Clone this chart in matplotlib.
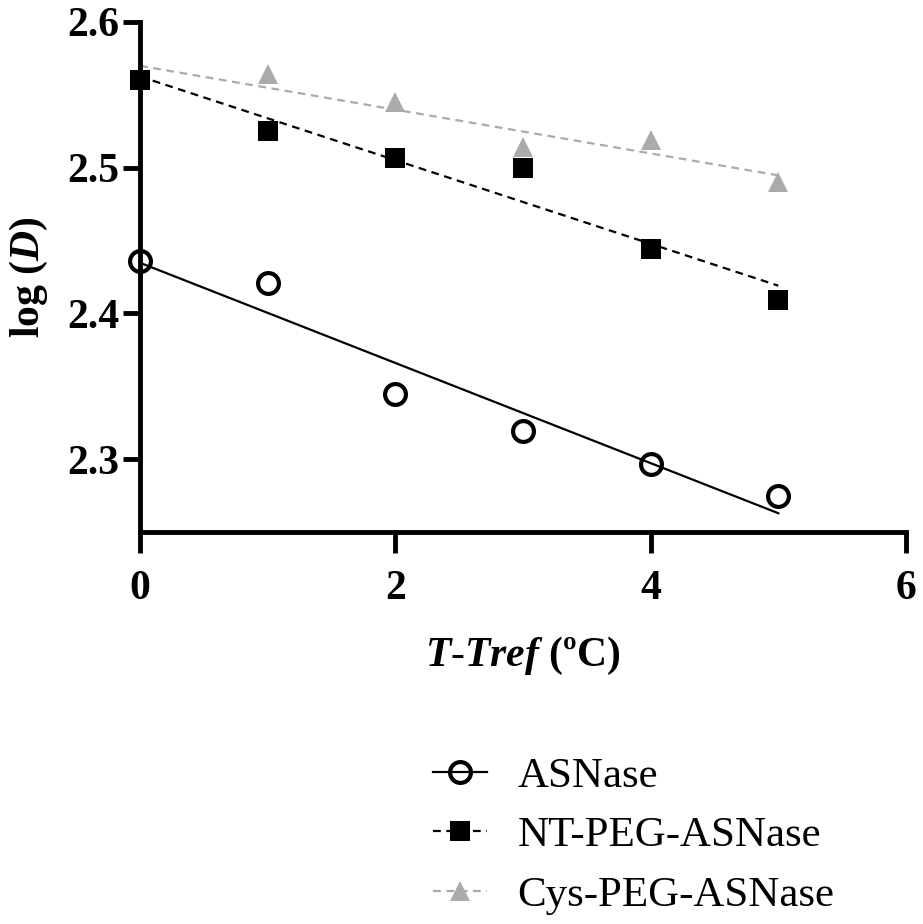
import numpy as np
import matplotlib
matplotlib.use("Agg")
import matplotlib.pyplot as plt
from matplotlib.lines import Line2D

plt.rcParams['font.family'] = ['Liberation Serif', 'DejaVu Serif']
plt.rcParams['mathtext.fontset'] = 'custom'
plt.rcParams['mathtext.rm'] = 'Liberation Serif'
plt.rcParams['mathtext.it'] = 'Liberation Serif:italic:bold'
plt.rcParams['mathtext.bf'] = 'Liberation Serif:bold'

# Data
x = [0, 1, 2, 3, 4, 5]
asnase = [2.436, 2.421, 2.345, 2.319, 2.297, 2.275]
nt_peg = [2.560, 2.525, 2.507, 2.500, 2.444, 2.409]
cys_peg = [2.562, 2.564, 2.545, 2.514, 2.519, 2.490]
labels = ["ASNase", "NT-PEG-ASNase", "Cys-PEG-ASNase"]
xticks = [0, 2, 4, 6]
yticks = [2.3, 2.4, 2.5, 2.6]

gray = '#ababab'
styles = [
    dict(color='black', ls='-', marker='o', mfc='none', mec='black', mew=3.0, ms=15),
    dict(color='black', ls=(0, (3.5, 2.5)), marker='s', mfc='black', mec='black', mew=0, ms=15),
    dict(color=gray, ls=(0, (3.5, 2.5)), marker='^', mfc=gray, mec=gray, mew=0, ms=15),
]
series = [asnase, nt_peg, cys_peg]
zorders = [4, 3, 2]

fig = plt.figure(figsize=(9.23, 9.24), dpi=100)
ax = fig.add_axes([0.1517, 0.4242, 0.8299, 0.5520])

xs = np.array(x, dtype=float)
xfit = np.array([xs.min(), xs.max()])
for ys, st, z in zip(series, styles, zorders):
    p = np.polyfit(xs, np.array(ys), 1)
    ax.plot(xfit, np.polyval(p, xfit), color=st['color'], ls=st['ls'], lw=1.6,
            zorder=z, clip_on=False)
    ax.plot(xs, ys, ls='none', marker=st['marker'], mfc=st['mfc'], mec=st['mec'],
            mew=st['mew'], ms=st['ms'], zorder=z + 0.5, clip_on=False)

ax.set_xlim(0, 6)
ax.set_ylim(2.25, 2.6)
ax.set_xticks(xticks)
ax.set_yticks(yticks)
ax.set_xticklabels([str(t) for t in xticks])
ax.set_yticklabels([f"{t:.1f}" for t in yticks])
for s in ['top', 'right']:
    ax.spines[s].set_visible(False)
for s in ['left', 'bottom']:
    ax.spines[s].set_linewidth(3.5)
ax.tick_params(axis='y', direction='out', length=12, width=3.5, pad=3, labelsize=30)
ax.tick_params(axis='x', direction='out', length=15, width=3.5, pad=12, labelsize=30)
for lab in ax.get_xticklabels() + ax.get_yticklabels():
    lab.set_fontweight('bold')

ax.set_ylabel(r'$\mathbf{log\ (}\mathit{D}\mathbf{)}$', fontsize=30, labelpad=12)
ax.set_xlabel(r'$\mathit{T}$-$\mathit{Tref}$ $\mathbf{(ºC)}$', fontsize=30, labelpad=20)

handles = []
for st in styles:
    handles.append(Line2D([0], [0], color=st['color'], ls=st['ls'], lw=1.6,
                          marker=st['marker'], mfc=st['mfc'], mec=st['mec'],
                          mew=st['mew'], ms=st['ms']))
fig.legend(handles, labels, loc='upper left', bbox_to_anchor=(0.451, 0.1995),
           frameon=False, fontsize=31, handlelength=1.25, handletextpad=0.7,
           labelspacing=0.47, borderaxespad=0)

fig.savefig('out.png', dpi=100)
